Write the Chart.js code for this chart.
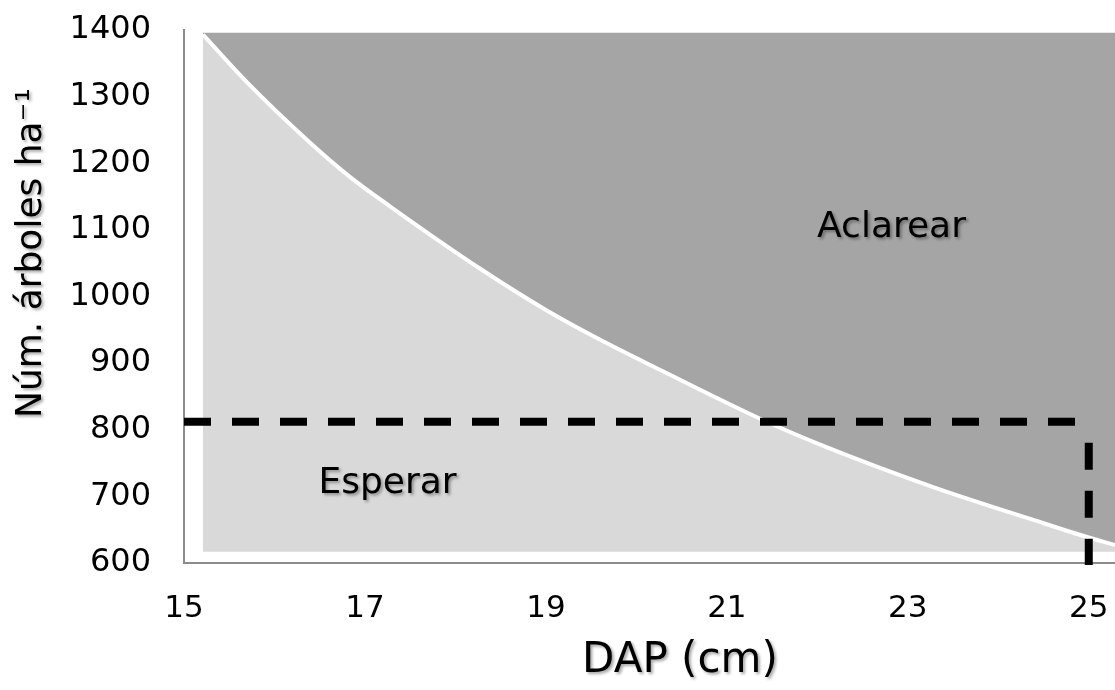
<!DOCTYPE html>
<html>
<head>
<meta charset="utf-8">
<script src="https://cdn.jsdelivr.net/npm/chart.js@4/dist/chart.umd.min.js"></script>
<style>
  html, body { margin: 0; padding: 0; background: #fff; }
  canvas { display: block; }
</style>
</head>
<body>
<canvas id="chart" width="1115" height="690"></canvas>
<script>
// values
const dap = [15.21, 15.70, 16.36, 16.83, 17.28, 18.27, 19.01, 19.60, 20.26, 21.44, 22.10, 23.28, 24.38, 24.98, 25.29];
const arboles = [1393, 1321, 1235, 1180, 1135, 1042, 979, 935, 890, 812, 774, 714, 665, 639, 627];
const xTicks = [15, 17, 19, 21, 23, 25];
const yTicks = [600, 700, 800, 900, 1000, 1100, 1200, 1300, 1400];
const areaTop = 1396;
const areaBottom = 617;
const refDap = 25;
const refArboles = 812;
const refLineX = [15, 25];
const refLineY = [812, 597];
const regionLabels = ["Aclarear", "Esperar"];
const regionX = [22.82, 17.25];
const regionY = [1103, 719];

const curve = dap.map((x, i) => ({ x: x, y: arboles[i] }));

const textPlugin = {
  id: "textPlugin",
  afterDatasetsDraw(chart) {
    const ctx = chart.ctx;
    const xs = chart.scales.x;
    const ys = chart.scales.y;
    ctx.save();
    ctx.fillStyle = "#000";
    ctx.shadowColor = "rgba(0,0,0,0.35)";
    ctx.shadowBlur = 3;
    ctx.shadowOffsetX = 2;
    ctx.shadowOffsetY = 2;
    ctx.textAlign = "center";
    ctx.textBaseline = "middle";
    ctx.font = "36px 'DejaVu Sans'";
    regionLabels.forEach((label, i) => {
      ctx.fillText(label, xs.getPixelForValue(regionX[i]), ys.getPixelForValue(regionY[i]));
    });
    // axis titles
    ctx.font = "42px 'DejaVu Sans'";
    ctx.fillText("DAP (cm)", 680, 661);
    ctx.translate(32, 253);
    ctx.rotate(-Math.PI / 2);
    ctx.font = "36px 'DejaVu Sans'";
    ctx.fillText("Núm. árboles ha⁻¹", 0, 0);
    ctx.restore();
  }
};

new Chart(document.getElementById("chart"), {
  type: "line",
  data: {
    datasets: [
      {
        data: curve,
        order: 3,
        fill: { value: areaTop },
        backgroundColor: "#a5a5a5",
        borderWidth: 0,
        pointRadius: 0,
        cubicInterpolationMode: "monotone"
      },
      {
        data: curve,
        order: 2,
        fill: { value: areaBottom },
        backgroundColor: "#d9d9d9",
        borderColor: "#ffffff",
        borderWidth: 4,
        pointRadius: 0,
        cubicInterpolationMode: "monotone"
      },
      {
        data: refLineX.map((x) => ({ x: x, y: refArboles })),
        order: 1,
        borderColor: "#000",
        borderWidth: 8,
        borderDash: [27, 21],
        borderCapStyle: "butt",
        pointRadius: 0,
        fill: false
      },
      {
        data: refLineY.map((y) => ({ x: refDap, y: y })),
        order: 0,
        borderColor: "#000",
        borderWidth: 8,
        borderDash: [27, 21],
        borderDashOffset: 27,
        borderCapStyle: "butt",
        pointRadius: 0,
        fill: false,
        clip: false
      }
    ]
  },
  options: {
    responsive: false,
    animation: false,
    layout: { padding: { top: 30, right: 0, left: 0, bottom: 0 } },
    plugins: {
      legend: { display: false },
      tooltip: { enabled: false }
    },
    scales: {
      x: {
        type: "linear",
        min: 15,
        max: 25.29,
        afterBuildTicks: (scale) => {
          scale.ticks = xTicks.map((v) => ({ value: v }));
        },
        afterFit: (scale) => {
          scale.height = 127;
          scale.paddingRight = 0;
          scale.paddingLeft = 0;
        },
        grid: { display: false, drawTicks: false },
        border: { display: true, color: "#8c8c8c", width: 2 },
        ticks: {
          color: "#000",
          padding: 27,
          maxRotation: 0,
          callback: (v) => String(v),
          font: { family: "DejaVu Sans", size: 31 }
        }
      },
      y: {
        min: 600,
        max: 1400,
        afterBuildTicks: (scale) => {
          scale.ticks = yTicks.map((v) => ({ value: v }));
        },
        afterFit: (scale) => {
          scale.width = 184;
          scale.paddingTop = 0;
          scale.paddingBottom = 0;
        },
        grid: { display: false, drawTicks: false },
        border: { display: true, color: "#8c8c8c", width: 2 },
        ticks: {
          color: "#000",
          padding: 33,
          callback: (v) => String(v),
          font: { family: "DejaVu Sans", size: 32 }
        }
      }
    }
  },
  plugins: [textPlugin]
});
</script>
</body>
</html>
